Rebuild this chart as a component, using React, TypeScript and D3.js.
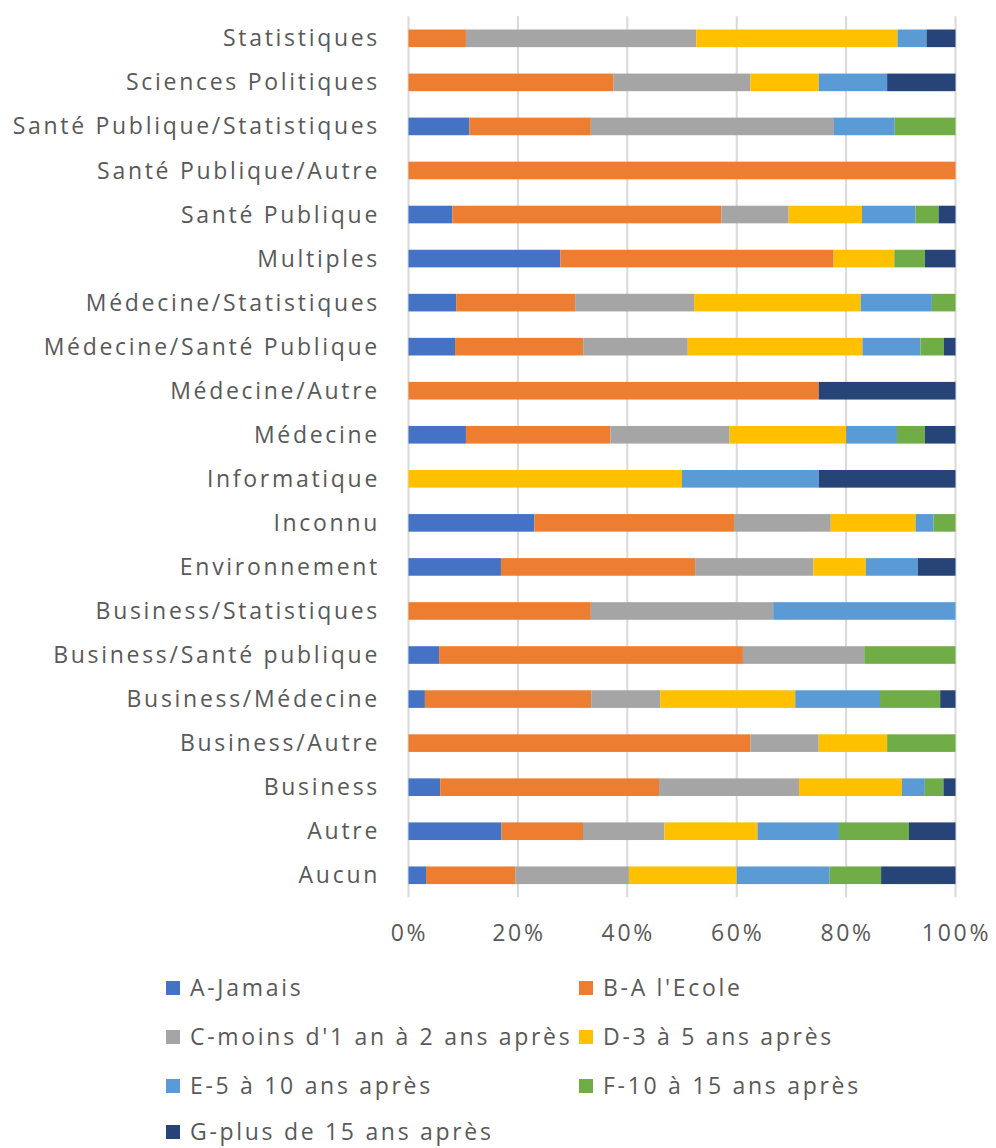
import * as d3 from "d3";

// categories, top to bottom as drawn
const categories = [
  "Statistiques",
  "Sciences Politiques",
  "Santé Publique/Statistiques",
  "Santé Publique/Autre",
  "Santé Publique",
  "Multiples",
  "Médecine/Statistiques",
  "Médecine/Santé Publique",
  "Médecine/Autre",
  "Médecine",
  "Informatique",
  "Inconnu",
  "Environnement",
  "Business/Statistiques",
  "Business/Santé publique",
  "Business/Médecine",
  "Business/Autre",
  "Business",
  "Autre",
  "Aucun",
];

// share (%) per category, same order as categories
const jamais = [0, 0, 11.1, 0, 8.0, 27.8, 8.7, 8.5, 0, 10.5, 0, 23.0, 16.9, 0, 5.6, 3.0, 0, 5.8, 17.0, 3.2];
const ecole = [10.5, 37.5, 22.2, 100, 49.2, 50, 21.7, 23.4, 75, 26.4, 0, 36.5, 35.5, 33.3, 55.6, 30.4, 62.5, 40.0, 14.9, 16.3];
const moins2ans = [42.1, 25, 44.4, 0, 12.3, 0, 21.7, 19.1, 0, 21.8, 0, 17.7, 21.6, 33.3, 22.2, 12.6, 12.5, 25.6, 14.9, 20.8];
const de3a5 = [36.8, 12.5, 0, 0, 13.4, 11.1, 30.4, 31.9, 0, 21.3, 50, 15.5, 9.6, 0, 0, 24.7, 12.5, 18.8, 17.0, 19.7];
const de5a10 = [5.3, 12.5, 11.1, 0, 9.8, 0, 13.0, 10.6, 0, 9.3, 25, 3.3, 9.5, 33.3, 0, 15.5, 0, 4.2, 14.9, 17.0];
const de10a15 = [0, 0, 11.1, 0, 4.2, 5.6, 4.3, 4.3, 0, 5.1, 0, 4.0, 0, 0, 16.7, 11.0, 12.5, 3.4, 12.8, 9.4];
const plus15 = [5.3, 12.5, 0, 0, 3.1, 5.6, 0, 2.1, 25, 5.6, 25, 0, 6.9, 0, 0, 2.8, 0, 2.2, 8.5, 13.6];

const seriesNames = [
  "A-Jamais",
  "B-A l'Ecole",
  "C-moins d'1 an à 2 ans après",
  "D-3 à 5 ans après",
  "E-5 à 10 ans après",
  "F-10 à 15 ans après",
  "G-plus de 15 ans après",
];
const seriesValues = [jamais, ecole, moins2ans, de3a5, de5a10, de10a15, plus15];
const colors = ["#4472C4", "#ED7D31", "#A5A5A5", "#FFC000", "#5B9BD5", "#70AD47", "#264478"];

const tickValues = [0, 0.2, 0.4, 0.6, 0.8, 1];

const width = 996;
const height = 1148;
const font = "'Open Sans', sans-serif";
const textColor = "#595959";
const fontSize = 23;
const spacing = "2.7px";

export default function App() {
  const rows = categories.map((c, i) => {
    const r: any = { cat: c };
    seriesNames.forEach((s, j) => (r[s] = seriesValues[j][i]));
    return r;
  });

  const stack = d3.stack().keys(seriesNames).offset(d3.stackOffsetExpand);
  const layers = stack(rows);

  const x = d3.scaleLinear().domain([0, 1]).range([408.5, 955.5]);
  const y = d3.scaleBand().domain(categories).range([16.3, 897.3]).paddingInner(0.6).paddingOuter(0.3);

  // legend: two columns
  const legendX = [166, 579];
  const legendY = [988, 1037, 1086, 1132];

  return (
    <svg width={width} height={height} style={{ position: "absolute", left: 0, top: 0, background: "#fff" }}>
      {/* gridlines */}
      {tickValues.map((t) => (
        <line key={t} x1={x(t)} x2={x(t)} y1={16.3} y2={897.3} stroke="#d9d9d9" strokeWidth={2} />
      ))}

      {/* bars */}
      {layers.map((layer, j) => (
        <g key={layer.key} fill={colors[j]}>
          {layer.map((d: any, i: number) => (
            <rect
              key={i}
              x={x(d[0])}
              y={y(categories[i])}
              width={Math.max(0, x(d[1]) - x(d[0]))}
              height={y.bandwidth()}
            />
          ))}
        </g>
      ))}

      {/* category labels */}
      {categories.map((c) => (
        <text
          key={c}
          x={380}
          y={(y(c) ?? 0) + y.bandwidth() / 2}
          dy="0.35em"
          textAnchor="end"
          fontFamily={font}
          fontSize={fontSize}
          letterSpacing={spacing}
          fill={textColor}
        >
          {c}
        </text>
      ))}

      {/* x axis labels */}
      {tickValues.map((t) => (
        <text
          key={t}
          x={x(t) + 1}
          y={933}
          dy="0.35em"
          textAnchor="middle"
          fontFamily={font}
          fontSize={fontSize}
          letterSpacing={spacing}
          fill={textColor}
        >
          {d3.format(".0%")(t)}
        </text>
      ))}

      {/* legend */}
      {seriesNames.map((s, j) => {
        const lx = legendX[j % 2];
        const ly = legendY[Math.floor(j / 2)];
        return (
          <g key={s}>
            <rect x={lx} y={ly - 7} width={14} height={14} fill={colors[j]} />
            <text
              x={lx + 24}
              y={ly}
              dy="0.35em"
              fontFamily={font}
              fontSize={fontSize}
              letterSpacing={spacing}
              fill={textColor}
            >
              {s}
            </text>
          </g>
        );
      })}
    </svg>
  );
}
